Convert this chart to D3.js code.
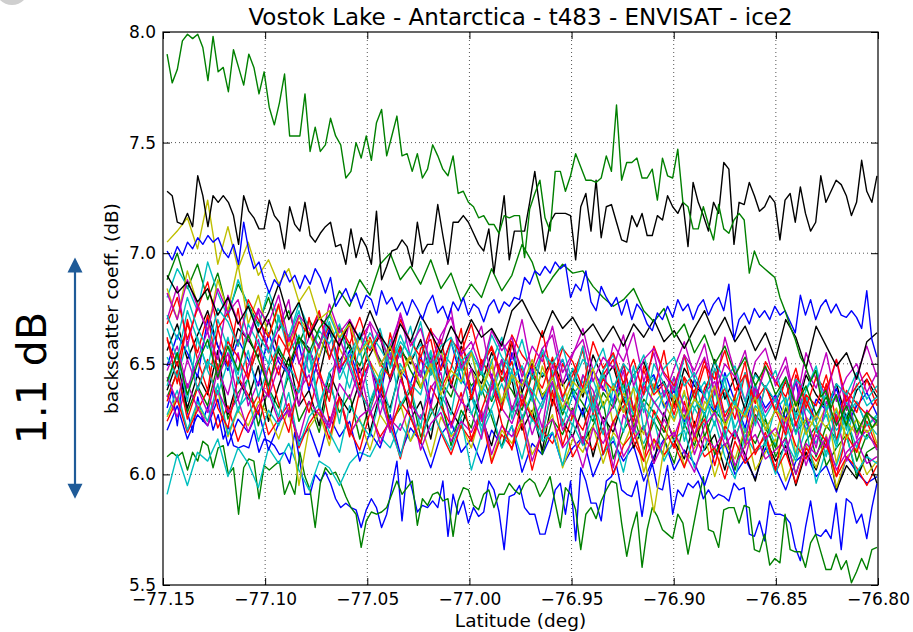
<!DOCTYPE html>
<html>
<head>
<meta charset="utf-8">
<script src="https://cdn.jsdelivr.net/npm/d3@7"></script>
<style>
  body { margin: 0; background: #fff; }
  text { font-family: "DejaVu Sans", sans-serif; }
</style>
</head>
<body>
<div id="chart"></div>
<script>
// ---- data -------------------------------------------------------------
const titleText = 'Vostok Lake - Antarctica - t483 - ENVISAT - ice2'
const latRange = [-77.15, -76.80]
const dbRange = [5.5, 8.0]
const latTicks = [-77.15, -77.10, -77.05, -77.00, -76.95, -76.90, -76.85, -76.80]
const dbTicks = [5.5, 6.0, 6.5, 7.0, 7.5, 8.0]
// along-track samples run from trackStart to trackEnd (evenly spaced)
const trackStart = -77.148, trackEnd = -76.8005
// the annotated spread: 1.1 dB
const spanDb = [5.89, 6.98]
const spanLabel = '1.1 dB'

// passes read at full resolution (140 samples)
const greenHigh = [
  7.90,7.77,7.83,7.96,7.99,7.97,7.99,7.93,7.78,7.98,
  7.82,7.84,7.73,7.92,7.84,7.76,7.90,7.84,7.72,7.82,
  7.66,7.58,7.68,7.81,7.53,7.53,7.53,7.72,7.46,7.57,
  7.46,7.49,7.61,7.53,7.49,7.34,7.37,7.50,7.43,7.53,
  7.42,7.59,7.65,7.44,7.53,7.62,7.44,7.45,7.37,7.45,
  7.34,7.38,7.49,7.44,7.38,7.35,7.44,7.27,7.28,7.23,
  7.21,7.16,7.17,7.13,7.13,7.09,7.17,7.16,7.17,7.17,
  6.98,7.20,7.27,7.33,7.16,7.10,7.37,7.37,7.28,7.35,
  7.45,7.39,7.33,7.33,7.32,7.34,7.44,7.37,7.67,7.33,
  7.41,7.41,7.43,7.34,7.34,7.38,7.24,7.43,7.35,7.34,
  7.47,7.23,7.21,7.11,7.11,7.21,7.13,7.06,7.22,7.11,
  7.09,7.15,7.18,7.15,6.91,7.01,6.95,6.93,6.91,6.89,
  6.80,6.74,6.67,6.61,6.53,6.49,6.42,6.47,6.35,6.38,
  6.30,6.36,6.28,6.22,6.30,6.25,6.18,6.27,6.21,6.24
]
const blackHigh = [
  7.28,7.26,7.14,7.13,7.18,7.12,7.35,7.26,7.12,7.26,
  7.23,7.26,7.23,7.17,7.04,7.26,7.19,7.16,7.11,7.11,
  7.24,7.17,7.14,7.02,7.21,7.13,7.10,7.23,7.08,7.05,
  7.09,7.12,7.14,7.03,7.04,6.95,7.11,6.98,7.07,7.03,
  6.95,7.19,6.88,6.94,7.01,7.02,7.06,7.03,6.94,7.14,
  7.00,7.04,7.04,7.22,7.08,6.95,7.14,7.14,7.17,7.14,
  7.09,7.04,7.01,7.11,6.91,7.09,7.26,6.97,7.10,7.10,
  7.10,7.23,7.37,7.20,7.01,7.14,7.18,7.18,7.18,7.17,
  6.97,7.21,7.27,7.10,7.33,7.07,7.21,7.22,7.14,7.06,
  7.05,7.17,7.12,7.18,7.08,7.08,7.17,7.15,7.26,7.21,
  7.18,7.23,7.03,7.32,7.23,7.17,7.10,7.23,7.18,7.41,
  7.38,7.04,7.23,7.22,7.32,7.26,7.19,7.21,7.26,7.23,
  7.06,7.24,7.27,7.14,7.30,7.18,7.10,7.14,7.35,7.23,
  7.28,7.33,7.31,7.26,7.17,7.23,7.42,7.28,7.23,7.35
]
const blueHigh = [
  7.01,6.97,7.03,6.99,7.05,7.02,7.07,7.04,7.08,7.05,
  7.07,7.01,6.98,7.04,6.95,7.14,7.01,6.93,6.96,6.88,
  6.82,6.88,6.85,6.92,6.87,6.90,6.84,6.90,6.86,6.93,
  6.89,6.82,6.89,6.76,6.80,6.84,6.78,6.82,6.75,6.81,
  6.79,6.72,6.83,6.77,6.80,6.74,6.78,6.72,6.79,6.75,
  6.70,6.77,6.81,6.73,6.76,6.70,6.78,6.74,6.80,6.72,
  6.77,6.75,6.69,6.76,6.79,6.73,6.78,6.76,6.80,6.79,
  6.89,6.86,6.92,6.90,6.94,6.91,6.96,6.93,6.95,6.80,
  6.86,6.83,6.92,6.78,6.74,6.85,6.80,6.76,6.80,6.72,
  6.79,6.70,6.77,6.74,6.68,6.65,6.73,6.70,6.76,6.71,
  6.79,6.74,6.77,6.70,6.76,6.79,6.72,6.77,6.80,6.74,
  6.86,6.61,6.70,6.73,6.68,6.75,6.71,6.74,6.70,6.76,
  6.72,6.74,6.69,6.64,6.81,6.72,6.79,6.70,6.76,6.79,
  6.73,6.77,6.72,6.71,6.74,6.71,6.66,6.83,6.61,6.53
]
const greenLow = [
  6.08,6.10,6.08,6.10,6.02,6.10,6.06,6.15,6.13,6.03,
  6.12,6.13,6.00,6.03,5.82,6.03,6.07,6.06,5.89,6.04,
  6.02,6.04,6.06,5.91,5.97,5.91,6.10,5.99,5.93,5.76,
  5.96,6.03,6.00,6.01,5.96,5.90,5.85,5.82,5.67,5.79,
  5.83,5.82,5.83,5.85,5.91,5.97,5.91,5.94,5.97,5.77,
  5.89,5.86,5.91,5.92,5.88,5.89,5.72,5.88,5.94,5.93,
  5.86,5.84,5.91,5.93,5.85,5.91,5.91,5.96,5.93,5.91,
  5.96,5.98,5.96,5.90,5.94,5.99,5.87,5.76,5.94,5.91,
  5.84,5.66,5.82,5.85,5.80,5.88,5.93,5.97,5.96,5.78,
  5.63,5.75,5.83,5.58,5.75,5.85,5.81,5.75,5.73,5.71,
  5.82,5.78,5.64,5.76,5.88,5.99,5.75,5.74,5.67,5.84,
  5.85,5.85,5.78,5.86,5.85,5.66,5.65,5.73,5.59,5.62,
  5.60,5.82,5.66,5.65,5.65,5.58,5.69,5.73,5.65,5.57,
  5.57,5.64,5.57,5.61,5.51,5.56,5.62,5.57,5.66,5.67
]
const blueLow = [
  6.30,6.38,6.22,6.41,6.28,6.19,6.35,6.24,6.31,6.20,
  6.27,6.16,6.22,6.13,6.12,6.13,6.12,6.20,6.10,6.16,
  6.15,6.13,6.09,6.10,6.05,6.19,6.06,5.91,5.91,6.00,
  5.97,6.01,5.96,5.89,5.85,5.87,5.85,5.84,5.76,5.84,
  5.89,5.85,5.76,5.82,5.94,6.06,5.79,6.02,5.93,5.83,
  5.86,5.85,5.88,5.85,5.97,5.72,5.91,5.82,5.88,5.78,
  5.85,5.81,5.83,5.97,5.93,5.83,5.66,5.90,5.91,5.95,
  5.85,5.82,5.82,5.73,5.73,5.82,5.93,5.96,5.82,5.97,
  5.70,6.03,5.97,5.87,5.87,5.79,5.97,5.99,6.04,5.93,
  5.91,5.90,5.97,5.81,5.97,6.05,5.94,5.93,6.04,5.82,
  5.93,5.90,5.96,5.94,5.97,5.89,5.93,5.89,5.91,5.90,
  5.88,5.96,5.93,5.94,5.73,5.72,5.79,5.70,5.88,5.82,
  5.82,5.81,5.78,5.67,5.61,5.76,5.88,5.73,5.72,5.75,
  5.71,5.87,5.66,5.89,5.87,5.78,5.82,5.71,5.85,5.96
]

// passes read at half resolution (71 samples)
const yellowHigh = [
  7.05,7.10,7.16,7.02,7.24,6.95,7.12,6.93,7.05,6.90,
  6.97,6.86,6.93,6.78,6.85,6.70,6.74,6.62,6.68,6.55,
  6.61,6.49,6.58,6.44,6.53,6.40,6.50,6.36,6.47,6.42,
  6.55,6.38,6.49,6.33,6.45,6.40,6.52,6.35,6.44,6.30,
  6.42,6.37,6.48,6.31,6.40,6.28,6.39,6.10,5.83,6.12,
  6.36,6.25,6.34,6.29,6.40,6.22,6.31,6.26,6.35,6.20,
  6.29,6.24,6.33,6.18,6.27,6.21,6.30,6.16,6.25,6.19,
  6.23
]
const greenMid = [
  6.42,6.55,6.36,6.50,6.61,6.44,6.58,6.47,6.63,6.52,
  6.40,6.57,6.49,6.62,6.55,6.66,6.72,6.83,6.76,6.88,
  6.81,6.95,7.00,6.88,6.94,6.86,6.97,6.84,6.91,6.78,
  6.86,6.80,6.93,6.83,6.90,7.04,6.96,6.82,6.89,6.95,
  6.91,6.92,6.85,6.80,6.76,6.79,6.84,6.74,6.69,6.75,
  6.62,6.68,6.55,6.63,6.50,6.58,6.45,6.53,6.40,6.49,
  6.36,6.44,6.31,6.40,6.27,6.35,6.22,6.31,6.19,6.28,
  6.24
]
const cyanLow = [
  5.91,6.09,5.95,6.10,6.06,6.16,5.99,6.12,6.05,5.94,
  6.12,6.05,6.14,6.02,5.93,6.06,6.03,5.95,6.05,6.10,
  6.08,6.17,6.12,6.23,6.15,6.27,6.20,6.31,6.18,6.26,
  6.35,6.22,6.30,6.41,6.28,6.37,6.24,6.33,6.45,6.29,
  6.38,6.26,6.35,6.47,6.31,6.40,6.27,6.36,6.44,6.30,
  6.39,6.23,6.34,6.42,6.28,6.37,6.21,6.32,6.40,6.25,
  6.13,6.30,6.19,6.36,6.24,6.08,6.29,6.17,6.33,6.22,
  6.27
]
const blackMid = [
  6.90,6.82,6.87,6.78,6.84,6.72,6.80,6.68,6.76,6.64,
  6.73,6.86,6.70,6.78,6.62,6.71,6.66,6.58,6.69,6.61,
  6.74,6.63,6.56,6.68,6.60,6.72,6.64,6.55,6.67,6.59,
  6.70,6.62,6.66,6.58,6.74,6.79,6.70,6.62,6.74,6.66,
  6.71,6.63,6.68,6.60,6.67,6.58,6.68,6.62,6.70,6.60,
  6.65,6.57,6.66,6.74,6.63,6.71,6.60,6.67,6.56,6.64,
  6.52,6.70,6.62,6.48,6.67,6.58,6.49,6.55,6.43,6.60,
  6.64
]

// the main bundle of passes (71 samples each)
const redA = [
  6.62,6.41,6.70,6.52,6.38,6.66,6.49,6.75,6.44,6.58,
  6.36,6.63,6.55,6.40,6.71,6.47,6.33,6.59,6.68,6.42,
  6.51,6.37,6.64,6.45,6.30,6.57,6.61,6.39,6.48,6.66,
  6.34,6.52,6.43,6.29,6.60,6.47,6.36,6.55,6.31,6.50,
  6.41,6.58,6.27,6.45,6.52,6.33,6.24,6.49,6.38,6.56,
  6.30,6.44,6.21,6.39,6.47,6.26,6.35,6.51,6.23,6.40,
  6.29,6.18,6.45,6.33,6.24,6.41,6.15,6.36,6.28,6.43,
  6.31
]
const magentaB = [
  6.70,6.85,6.58,6.77,6.64,6.52,6.81,6.69,6.60,6.74,
  6.55,6.66,6.79,6.50,6.62,6.73,6.57,6.46,6.70,6.61,
  6.68,6.49,6.58,6.72,6.53,6.44,6.65,6.59,6.75,6.48,
  6.56,6.67,6.43,6.60,6.52,6.70,6.46,6.57,6.63,6.41,
  6.54,6.66,6.47,6.38,6.59,6.51,6.64,6.42,6.55,6.35,
  6.48,6.60,6.44,6.53,6.37,6.62,6.46,6.33,6.51,6.57,
  6.40,6.49,6.31,6.55,6.43,6.36,6.52,6.29,6.45,6.58,
  6.44
]
const cyanC = [
  6.40,6.55,6.33,6.62,6.47,6.36,6.51,6.28,6.44,6.58,
  6.39,6.26,6.49,6.41,6.57,6.32,6.45,6.23,6.50,6.37,
  6.29,6.46,6.55,6.31,6.40,6.21,6.48,6.36,6.27,6.52,
  6.38,6.19,6.43,6.33,6.47,6.25,6.37,6.16,6.42,6.30,
  6.22,6.45,6.34,6.18,6.39,6.28,6.49,6.20,6.33,6.26,
  6.41,6.15,6.30,6.36,6.22,6.44,6.17,6.28,6.38,6.13,
  6.31,6.24,6.08,6.35,6.19,6.27,6.12,6.33,6.21,6.16,
  6.25
]
const redD = [
  6.33,6.47,6.25,6.39,6.52,6.30,6.21,6.44,6.36,6.27,
  6.49,6.32,6.19,6.41,6.28,6.46,6.24,6.35,6.17,6.38,
  6.29,6.43,6.20,6.33,6.26,6.14,6.40,6.31,6.22,6.37,
  6.16,6.29,6.42,6.23,6.11,6.34,6.26,6.19,6.38,6.13,
  6.27,6.20,6.35,6.09,6.24,6.31,6.15,6.06,6.29,6.21,
  6.12,6.33,6.18,6.25,6.04,6.22,6.16,6.30,6.09,6.19,
  6.02,6.26,6.13,6.07,6.21,6.15,5.99,6.18,6.10,6.24,
  6.12
]
const magentaE = [
  6.47,6.58,6.39,6.52,6.65,6.43,6.55,6.34,6.49,6.61,
  6.40,6.53,6.46,6.31,6.57,6.44,6.37,6.62,6.48,6.35,
  6.51,6.27,6.43,6.56,6.38,6.47,6.30,6.54,6.41,6.33,
  6.48,6.24,6.39,6.52,6.29,6.43,6.36,6.21,6.50,6.34,
  6.27,6.45,6.38,6.23,6.31,6.47,6.19,6.40,6.33,6.26,
  6.44,6.30,6.17,6.37,6.42,6.24,6.31,6.14,6.39,6.28,
  6.35,6.20,6.43,6.26,6.12,6.33,6.23,6.37,6.16,6.29,
  6.22
]
const cyanF = [
  6.66,6.52,6.74,6.61,6.48,6.70,6.57,6.45,6.68,6.59,
  6.50,6.72,6.55,6.63,6.46,6.58,6.69,6.43,6.54,6.64,
  6.49,6.40,6.61,6.53,6.67,6.44,6.56,6.38,6.60,6.47,
  6.55,6.36,6.51,6.62,6.42,6.49,6.33,6.57,6.45,6.52,
  6.39,6.58,6.30,6.47,6.54,6.37,6.45,6.28,6.50,6.41,
  6.34,6.53,6.43,6.26,6.48,6.39,6.31,6.46,6.22,6.40,
  6.33,6.44,6.25,6.38,6.47,6.29,6.36,6.20,6.41,6.31,
  6.35
]
const yellowG = [
  6.84,6.70,6.92,6.77,6.65,6.88,6.74,6.95,6.68,6.81,
  6.62,6.76,6.58,6.71,6.64,6.53,6.69,6.57,6.48,6.62,
  6.51,6.43,6.58,6.46,6.54,6.39,6.49,6.56,6.41,6.33,
  6.47,6.38,6.52,6.30,6.44,6.36,6.27,6.49,6.35,6.42,
  6.25,6.39,6.31,6.46,6.22,6.37,6.29,6.18,6.41,6.32,
  6.24,6.38,6.15,6.33,6.27,6.20,6.36,6.12,6.30,6.23,
  6.17,6.34,6.09,6.26,6.21,6.31,6.05,6.24,6.18,6.28,
  6.14
]
const blackH = [
  6.38,6.51,6.30,6.45,6.36,6.56,6.27,6.43,6.34,6.49,
  6.24,6.40,6.53,6.31,6.38,6.22,6.46,6.35,6.28,6.42,
  6.19,6.37,6.30,6.47,6.25,6.33,6.16,6.40,6.29,6.21,
  6.36,6.26,6.13,6.32,6.43,6.20,6.29,6.11,6.34,6.24,
  6.17,6.30,6.08,6.26,6.19,6.35,6.12,6.22,6.05,6.28,
  6.15,6.07,6.24,6.11,6.18,6.02,6.20,6.09,5.97,6.16,
  6.06,6.13,5.95,6.10,6.02,6.17,5.93,6.04,5.98,6.09,
  5.96
]
const redI = [
  6.68,6.80,6.61,6.75,6.87,6.66,6.73,6.58,6.79,6.70,
  6.62,6.77,6.55,6.69,6.63,6.74,6.52,6.67,6.59,6.71,
  6.56,6.64,6.49,6.70,6.60,6.53,6.66,6.47,6.61,6.55,
  6.68,6.50,6.58,6.45,6.63,6.54,6.48,6.65,6.43,6.57,
  6.51,6.39,6.60,6.48,6.55,6.41,6.52,6.36,6.58,6.46,
  6.40,6.54,6.34,6.49,6.43,6.56,6.38,6.45,6.32,6.51,
  6.42,6.35,6.48,6.30,6.44,6.38,6.52,6.33,6.40,6.46,
  6.37
]
const cyanJ = [
  6.27,6.38,6.20,6.33,6.24,6.41,6.18,6.30,6.36,6.15,
  6.29,6.22,6.37,6.13,6.26,6.32,6.19,6.10,6.31,6.24,
  6.17,6.34,6.21,6.08,6.27,6.14,6.30,6.20,6.11,6.25,
  6.02,6.18,6.29,6.12,6.22,6.07,6.26,6.15,6.19,6.04,
  6.23,6.13,6.28,6.09,6.17,6.01,6.21,6.14,6.25,6.06,
  6.16,6.20,6.03,6.12,6.24,6.08,5.98,6.18,6.10,6.14,
  6.00,6.15,6.06,6.21,5.96,6.11,6.04,6.17,6.01,6.08,
  6.05
]
const magentaK = [
  6.44,6.33,6.52,6.39,6.28,6.47,6.36,6.55,6.31,6.42,
  6.35,6.49,6.26,6.38,6.45,6.30,6.22,6.41,6.34,6.48,
  6.27,6.37,6.19,6.43,6.32,6.25,6.39,6.46,6.21,6.33,
  6.28,6.16,6.40,6.30,6.23,6.36,6.18,6.31,6.42,6.20,
  6.29,6.14,6.34,6.24,6.03,6.27,6.19,6.32,6.11,6.25,
  6.17,6.30,6.09,6.22,6.28,6.13,6.20,6.07,6.26,6.16,
  6.21,6.10,6.24,6.04,6.18,6.12,6.27,6.06,6.15,6.20,
  6.11
]
const blueL = [
  6.49,6.63,6.55,6.44,6.70,6.58,6.47,6.61,6.52,6.40,
  6.64,6.51,6.45,6.59,6.38,6.53,6.66,6.46,6.56,6.42,
  6.50,6.35,6.58,6.47,6.41,6.54,6.32,6.49,6.60,6.43,
  6.37,6.51,6.45,6.30,6.55,6.40,6.48,6.34,6.44,6.52,
  6.36,6.27,6.47,6.39,6.33,6.50,6.29,6.41,6.45,6.31,
  6.38,6.24,6.43,6.35,6.28,6.46,6.33,6.21,6.40,6.30,
  6.36,6.25,6.42,6.19,6.34,6.29,6.39,6.22,6.31,6.37,
  6.27
]
const greenM = [
  6.35,6.46,6.28,6.40,6.31,6.50,6.25,6.37,6.43,6.22,
  6.39,6.30,6.45,6.24,6.33,6.19,6.41,6.28,6.36,6.16,
  6.32,6.44,6.23,6.30,6.38,6.17,6.27,6.35,6.13,6.29,
  6.21,6.39,6.26,6.12,6.31,6.24,6.36,6.09,6.25,6.18,
  6.30,6.14,6.22,6.33,6.07,6.20,6.27,6.11,6.24,6.16,
  6.05,6.23,6.13,6.28,6.09,6.19,6.02,6.21,6.14,6.25,
  6.08,6.17,6.00,6.15,6.22,6.04,6.12,6.18,5.99,6.10,
  6.13
]
const redN = [
  6.61,6.49,6.68,6.55,6.72,6.47,6.60,6.53,6.43,6.66,
  6.57,6.45,6.63,6.51,6.40,6.59,6.67,6.48,6.54,6.38,
  6.62,6.50,6.44,6.58,6.36,6.52,6.46,6.61,6.41,6.55,
  6.34,6.49,6.57,6.42,6.51,6.31,6.46,6.39,6.53,6.35,
  6.45,6.56,6.32,6.43,6.38,6.50,6.29,6.47,6.36,6.41,
  6.27,6.44,6.37,6.52,6.30,6.39,6.25,6.46,6.33,6.40,
  6.28,6.43,6.22,6.36,6.31,6.45,6.24,6.38,6.32,6.27,
  6.34
]
const cyanO = [
  6.53,6.44,6.60,6.38,6.51,6.47,6.62,6.41,6.56,6.35,
  6.49,6.58,6.43,6.37,6.54,6.30,6.46,6.52,6.39,6.57,
  6.33,6.45,6.28,6.50,6.41,6.36,6.55,6.31,6.44,6.49,
  6.27,6.40,6.34,6.51,6.25,6.43,6.38,6.30,6.47,6.22,
  6.36,6.42,6.28,6.45,6.33,6.19,6.40,6.31,6.24,6.37,
  6.44,6.21,6.34,6.27,6.39,6.16,6.32,6.26,6.41,6.20,
  6.29,6.35,6.18,6.30,6.24,6.37,6.14,6.27,6.33,6.22,
  6.26
]
const magentaP = [
  6.82,6.70,6.88,6.76,6.65,6.84,6.73,6.79,6.62,6.75,
  6.68,6.81,6.60,6.72,6.66,6.57,6.77,6.64,6.70,6.55,
  6.69,6.61,6.52,6.73,6.58,6.66,6.50,6.63,6.71,6.54,
  6.60,6.47,6.65,6.56,6.62,6.44,6.58,6.51,6.67,6.46,
  6.55,6.61,6.42,6.53,6.48,6.63,6.40,6.52,6.57,6.45,
  6.38,6.54,6.47,6.59,6.36,6.50,6.44,6.56,6.34,6.48,
  6.42,6.53,6.31,6.47,6.39,6.55,6.33,6.44,6.50,6.37,
  6.46
]
const yellowQ = [
  6.26,6.35,6.20,6.31,6.24,6.38,6.17,6.29,6.22,6.33,
  6.27,6.16,6.30,5.95,6.21,6.28,6.13,6.34,6.19,6.25,
  6.11,6.27,6.20,6.32,6.15,6.23,6.08,6.26,6.17,6.22,
  6.12,6.29,6.06,6.20,6.14,6.25,6.09,6.18,6.27,6.03,
  6.16,6.10,6.22,6.05,6.19,6.13,6.24,6.01,6.15,6.08,
  6.20,6.04,6.12,6.18,5.99,6.14,6.07,6.21,6.02,6.10,
  6.16,5.97,6.09,6.13,6.03,6.18,5.94,6.08,6.12,6.00,
  6.06
]
const blackR = [
  6.56,6.68,6.52,6.63,6.74,6.58,6.49,6.66,6.61,6.53,
  6.70,6.55,6.47,6.62,6.57,6.44,6.65,6.51,6.59,6.46,
  6.54,6.63,6.42,6.56,6.50,6.61,6.45,6.53,6.39,6.58,
  6.48,6.41,6.55,6.46,6.60,6.37,6.50,6.44,6.52,6.40,
  6.47,6.35,6.54,6.43,6.49,6.33,6.45,6.51,6.38,6.42,
  6.31,6.48,6.40,6.36,6.52,6.34,6.44,6.29,6.46,6.39,
  6.33,6.42,6.27,6.45,6.36,6.30,6.41,6.25,6.38,6.43,
  6.35
]
const redS = [
  6.24,6.34,6.19,6.29,6.38,6.21,6.31,6.15,6.27,6.36,
  6.18,6.25,6.32,6.12,6.23,6.30,6.16,6.35,6.20,6.11,
  6.28,6.17,6.24,6.07,6.26,6.14,6.31,6.19,6.09,6.22,
  6.15,6.27,6.05,6.18,6.12,6.23,6.02,6.20,6.14,6.25,
  6.08,6.17,6.11,6.21,6.00,6.13,6.19,6.06,6.16,6.09,
  6.14,6.03,6.18,6.08,6.12,5.98,6.15,6.05,6.11,6.17,
  6.01,6.10,5.96,6.12,6.06,6.14,5.99,6.08,6.03,5.95,
  6.04
]
const cyanT = [
  6.72,6.61,6.80,6.66,6.57,6.75,6.69,6.58,6.77,6.63,
  6.55,6.70,6.62,6.74,6.52,6.65,6.59,6.68,6.50,6.63,
  6.57,6.66,6.48,6.60,6.54,6.69,6.46,6.58,6.62,6.51,
  6.56,6.45,6.63,6.53,6.47,6.61,6.43,6.55,6.50,6.58,
  6.41,6.52,6.47,6.57,6.39,6.50,6.44,6.54,6.37,6.48,
  6.53,6.40,6.46,6.35,6.51,6.43,6.49,6.33,6.45,6.39,
  6.47,6.31,6.43,6.38,6.49,6.29,6.41,6.36,6.46,6.34,
  6.40
]
const magentaU = [
  6.36,6.26,6.41,6.30,6.22,6.38,6.28,6.34,6.19,6.31,
  6.37,6.24,6.29,6.16,6.33,6.27,6.21,6.35,6.18,6.26,
  6.30,6.14,6.25,6.20,6.32,6.11,6.23,6.28,6.15,6.24,
  6.19,6.29,6.09,6.22,6.17,6.27,6.06,6.20,6.25,6.12,
  6.18,6.03,6.21,6.14,6.24,6.08,6.16,6.22,6.05,6.15,
  6.19,6.10,6.01,6.17,6.12,6.20,6.04,6.13,6.18,6.07,
  6.11,6.16,6.00,6.14,6.09,6.17,6.02,6.10,6.15,6.05,
  6.08
]
const blueV = [
  6.20,6.31,6.16,6.27,6.22,6.34,6.13,6.25,6.19,6.29,
  6.11,6.23,6.30,6.15,6.21,6.08,6.26,6.17,6.24,6.06,
  6.19,6.12,6.27,6.09,6.21,6.15,6.03,6.18,6.24,6.10,
  6.16,6.05,6.20,6.13,6.22,6.01,6.14,6.09,6.19,6.04,
  6.12,6.17,5.99,6.10,6.15,6.06,6.13,5.97,6.08,6.16,
  6.02,6.11,6.05,5.95,6.09,6.14,6.00,6.07,5.98,6.12,
  6.03,5.93,6.06,6.10,5.99,6.04,5.92,6.08,6.01,5.96,
  5.99
]
const greenW = [
  6.88,7.00,6.84,6.95,6.79,6.91,6.73,6.86,6.77,6.68,
  6.80,6.65,6.74,6.59,6.70,6.62,6.53,6.66,6.57,6.49,
  6.61,6.52,6.44,6.58,6.47,6.39,6.53,6.42,6.35,6.50,
  6.40,6.46,6.33,6.44,6.38,6.29,6.45,6.36,6.41,6.27,
  6.39,6.32,6.24,6.37,6.30,6.42,6.21,6.34,6.28,6.19,
  6.33,6.26,6.38,6.17,6.29,6.23,6.35,6.14,6.27,6.21,
  6.12,6.30,6.19,6.25,6.08,6.22,6.16,6.27,6.06,6.18,
  6.13
]
const cyanX = [
  6.80,6.93,6.85,6.74,6.96,6.82,6.71,6.88,6.76,6.67,
  6.83,6.70,6.62,6.77,6.66,6.58,6.72,6.61,6.69,6.54,
  6.64,6.57,6.49,6.63,6.52,6.59,6.45,6.56,6.50,6.41,
  6.55,6.47,6.38,6.52,6.44,6.49,6.36,6.46,6.40,6.33,
  6.48,6.37,6.43,6.30,6.41,6.35,6.27,6.42,6.32,6.38,
  6.25,6.36,6.30,6.22,6.37,6.28,6.33,6.19,6.31,6.26,
  6.34,6.17,6.28,6.23,6.14,6.29,6.20,6.25,6.12,6.24,
  6.18
]

// ---- drawing ------------------------------------------------------------
const colors = {b: '#0000ff', g: '#008000', r: '#ff0000', c: '#00bfbf', m: '#bf00bf', y: '#bfbf00', k: '#000000'}

// drawing order: first drawn ends up underneath
const series = [
  [blueLow, 'b'], [greenLow, 'g'], [cyanLow, 'c'],
  [blueV, 'b'], [greenM, 'g'], [blackH, 'k'], [yellowQ, 'y'], [blackR, 'k'], [blueL, 'b'],
  [greenW, 'g'], [cyanX, 'c'], [yellowG, 'y'],
  [redS, 'r'], [cyanJ, 'c'], [magentaU, 'm'], [redD, 'r'], [cyanC, 'c'], [magentaK, 'm'],
  [redA, 'r'], [cyanO, 'c'], [magentaE, 'm'], [redN, 'r'], [cyanF, 'c'], [magentaB, 'm'],
  [redI, 'r'], [cyanT, 'c'], [magentaP, 'm'],
  [blackMid, 'k'], [yellowHigh, 'y'], [greenMid, 'g'], [blueHigh, 'b'],
  [blackHigh, 'k'], [greenHigh, 'g']
]

const width = 913, height = 632
const plot = {left: 163, right: 878, top: 32, bottom: 585}

const svg = d3.select('#chart').append('svg')
  .attr('width', width)
  .attr('height', height)

const x = d3.scaleLinear().domain(latRange).range([plot.left, plot.right])
const y = d3.scaleLinear().domain(dbRange).range([plot.bottom, plot.top])

// little grey disc peeking in at the top-left corner
svg.append('circle')
  .attr('cx', 12).attr('cy', -12).attr('r', 17)
  .attr('fill', '#cfcfcf')

svg.append('clipPath').attr('id', 'plot-clip')
  .append('rect')
    .attr('x', plot.left).attr('y', plot.top)
    .attr('width', plot.right - plot.left).attr('height', plot.bottom - plot.top)

// dotted grid
const grid = svg.append('g')
  .attr('stroke', '#000')
  .attr('stroke-width', 0.9)
  .attr('stroke-dasharray', '1,3')
  .attr('stroke-opacity', 0.75)
grid.selectAll('line.vx')
  .data(latTicks.slice(1, -1))
  .join('line')
    .attr('class', 'vx')
    .attr('x1', d => x(d)).attr('x2', d => x(d))
    .attr('y1', plot.top).attr('y2', plot.bottom)
grid.selectAll('line.hy')
  .data(dbTicks.slice(1, -1))
  .join('line')
    .attr('class', 'hy')
    .attr('x1', plot.left).attr('x2', plot.right)
    .attr('y1', d => y(d)).attr('y2', d => y(d))

// the passes
const line = d3.line().x(d => x(d[0])).y(d => y(d[1]))
const toPoints = vals => {
  const step = (trackEnd - trackStart) / (vals.length - 1)
  return vals.map((v, i) => [trackStart + i * step, v])
}

svg.append('g')
  .attr('clip-path', 'url(#plot-clip)')
  .selectAll('path')
  .data(series)
  .join('path')
    .attr('d', d => line(toPoints(d[0])))
    .attr('fill', 'none')
    .attr('stroke', d => colors[d[1]])
    .attr('stroke-width', 1.4)
    .attr('stroke-linejoin', 'round')

// axes, ticks point inwards on all four sides
const styleAxis = g => {
  g.attr('font-size', 17).attr('font-family', 'DejaVu Sans')
  g.select('.domain').remove()
  g.selectAll('.tick line').attr('stroke', '#000').attr('stroke-width', 1)
  g.selectAll('.tick text').attr('fill', '#000')
}

svg.append('g')
  .attr('transform', `translate(0,${plot.bottom})`)
  .call(d3.axisBottom(x).tickValues(latTicks).tickSize(-7).tickSizeOuter(0)
    .tickPadding(8).tickFormat(d3.format('.2f')))
  .call(styleAxis)

svg.append('g')
  .attr('transform', `translate(0,${plot.top})`)
  .call(d3.axisTop(x).tickValues(latTicks).tickSize(-7).tickSizeOuter(0).tickFormat(''))
  .call(styleAxis)

svg.append('g')
  .attr('transform', `translate(${plot.left},0)`)
  .call(d3.axisLeft(y).tickValues(dbTicks).tickSize(-7).tickSizeOuter(0)
    .tickPadding(7).tickFormat(d3.format('.1f')))
  .call(styleAxis)

svg.append('g')
  .attr('transform', `translate(${plot.right},0)`)
  .call(d3.axisRight(y).tickValues(dbTicks).tickSize(-7).tickSizeOuter(0).tickFormat(''))
  .call(styleAxis)

// frame
svg.append('rect')
  .attr('x', plot.left).attr('y', plot.top)
  .attr('width', plot.right - plot.left).attr('height', plot.bottom - plot.top)
  .attr('fill', 'none')
  .attr('stroke', '#000')
  .attr('stroke-width', 1.2)

// texts
svg.append('text')
  .attr('x', (plot.left + plot.right) / 2)
  .attr('y', 25)
  .attr('text-anchor', 'middle')
  .attr('font-size', 23)
  .text(titleText)

svg.append('text')
  .attr('x', (plot.left + plot.right) / 2)
  .attr('y', 627)
  .attr('text-anchor', 'middle')
  .attr('font-size', 18.5)
  .text('Latitude (deg)')

svg.append('text')
  .attr('transform', `translate(118,${(plot.top + plot.bottom) / 2}) rotate(-90)`)
  .attr('text-anchor', 'middle')
  .attr('font-size', 18.5)
  .text('backscatter coeff. (dB)')

// 1.1 dB annotation
const arrowX = 75, head = 15, headHalf = 7.5
const arrowColor = '#1f5b98'
const yTop = y(spanDb[1]), yBot = y(spanDb[0])
const ann = svg.append('g')
ann.append('line')
  .attr('x1', arrowX).attr('x2', arrowX)
  .attr('y1', yTop + head - 2).attr('y2', yBot - head + 2)
  .attr('stroke', arrowColor)
  .attr('stroke-width', 2.2)
ann.append('path')
  .attr('d', `M${arrowX},${yTop} L${arrowX + headHalf},${yTop + head} L${arrowX - headHalf},${yTop + head} Z`)
  .attr('fill', arrowColor)
ann.append('path')
  .attr('d', `M${arrowX},${yBot} L${arrowX + headHalf},${yBot - head} L${arrowX - headHalf},${yBot - head} Z`)
  .attr('fill', arrowColor)

ann.append('text')
  .attr('transform', `translate(46,${(yTop + yBot) / 2}) rotate(-90)`)
  .attr('text-anchor', 'middle')
  .attr('font-family', 'Lato, "Open Sans", sans-serif')
  .attr('font-size', 41)
  .attr('fill', '#000')
  .text(spanLabel)
</script>
</body>
</html>
